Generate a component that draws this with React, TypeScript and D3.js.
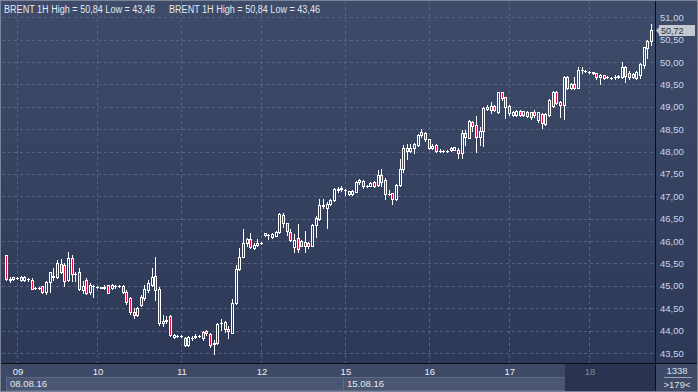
import React from "react";
import * as d3 from "d3";

const W = 698;
const H = 392;

const opens = [
  45.69, 45.15, 45.15, 45.17, 45.2, 45.14, 45.16, 45.13, 44.96, 44.96,
  44.99, 44.87, 45.08, 45.19, 45.19, 45.49, 45.46, 45.12, 45.63, 45.27,
  45.3, 44.9, 45.13, 44.86, 45.0, 44.98, 44.97, 44.96, 45.01, 44.96,
  45.0, 44.99, 45.0, 44.87, 44.72, 44.42, 44.34, 44.57, 44.72, 44.9,
  45.02, 45.21, 44.94, 44.17, 44.21, 44.33, 43.86, 43.89, 43.87, 43.84,
  43.68, 43.83, 43.86, 43.88, 43.83, 44.0, 43.92, 43.69, 43.72, 44.16,
  44.19, 44.04, 43.95, 44.61, 45.37, 45.65, 45.95, 46.04, 45.84, 45.91,
  45.95, 46.17, 46.14, 46.1, 46.12, 46.21, 46.58, 46.4, 46.21, 45.86,
  46.06, 46.01, 45.89, 45.95, 45.89, 46.36, 46.5, 46.78, 46.75, 46.83,
  46.92, 47.15, 47.17, 47.14, 47.12, 47.05, 47.1, 47.31, 47.35, 47.24,
  47.24, 47.33, 47.25, 47.48, 47.36, 47.05, 47.07, 46.93, 47.25, 47.6,
  48.07, 48.02, 48.09, 48.15, 48.37, 48.42, 48.27, 48.08, 48.15, 48.02,
  48.01, 48.02, 48.03, 48.04, 48.04, 47.96, 48.41, 48.31, 48.67, 48.59,
  48.33, 48.45, 48.95, 48.93, 49.02, 48.89, 49.32, 49.21, 49.02, 48.82,
  48.82, 48.91, 48.82, 48.89, 48.77, 48.89, 48.71, 48.85, 48.62, 48.82,
  49.02, 49.34, 49.1, 49.04, 49.67, 49.41, 49.52, 49.43, 49.82, 49.81,
  49.78, 49.77, 49.75, 49.66, 49.71, 49.66, 49.65, 49.67, 49.66, 49.67,
  49.88, 49.66, 49.73, 49.65, 49.71, 49.93, 50.31, 50.47,
];

const highs = [
  45.7, 45.2, 45.2, 45.19, 45.22, 45.23, 45.17, 45.17, 44.98, 44.97,
  45.0, 45.11, 45.32, 45.41, 45.58, 45.6, 45.52, 45.75, 45.7, 45.32,
  45.4, 45.1, 45.17, 45.06, 45.02, 45.0, 44.98, 45.03, 45.03, 45.05,
  45.03, 45.02, 45.01, 44.9, 44.76, 44.5, 44.52, 44.8, 45.03, 45.13,
  45.41, 45.65, 44.98, 44.35, 44.33, 44.36, 43.93, 43.91, 43.9, 43.86,
  43.88, 43.87, 43.92, 43.9, 44.0, 44.01, 43.94, 43.8, 44.16, 44.27,
  44.22, 44.1, 44.7, 45.47, 45.84, 46.28, 46.08, 46.19, 45.95, 46.04,
  45.97, 46.19, 46.15, 46.18, 46.22, 46.62, 46.62, 46.41, 46.26, 46.15,
  46.38, 46.03, 46.23, 45.98, 46.38, 46.55, 46.95, 46.95, 46.88, 46.95,
  47.18, 47.21, 47.22, 47.17, 47.13, 47.14, 47.34, 47.39, 47.36, 47.26,
  47.32, 47.34, 47.59, 47.62, 47.42, 47.15, 47.08, 47.27, 47.83, 48.15,
  48.16, 48.18, 48.2, 48.39, 48.5, 48.44, 48.29, 48.18, 48.16, 48.05,
  48.04, 48.04, 48.1, 48.11, 48.09, 48.48, 48.48, 48.71, 48.68, 48.8,
  48.56, 49.0, 49.05, 49.1, 49.04, 49.34, 49.34, 49.23, 49.04, 48.9,
  48.92, 48.92, 48.91, 48.9, 48.89, 48.93, 48.89, 48.87, 48.87, 49.17,
  49.36, 49.36, 49.12, 49.69, 49.69, 49.54, 49.67, 49.9, 49.9, 49.83,
  49.8, 49.78, 49.76, 49.73, 49.72, 49.68, 49.67, 49.71, 49.7, 50.0,
  49.91, 49.8, 49.75, 49.8, 49.97, 50.34, 50.49, 50.84,
];

const lows = [
  45.13, 45.08, 45.14, 45.15, 45.11, 45.11, 45.1, 44.92, 44.94, 44.93,
  44.85, 44.81, 44.87, 45.14, 45.17, 45.28, 45.0, 45.11, 45.11, 45.11,
  44.9, 44.83, 44.82, 44.81, 44.76, 44.95, 44.95, 44.92, 44.83, 44.94,
  44.96, 44.97, 44.85, 44.6, 44.38, 44.29, 44.33, 44.55, 44.68, 44.87,
  45.0, 44.68, 44.13, 44.1, 44.17, 43.87, 43.84, 43.86, 43.85, 43.66,
  43.66, 43.79, 43.84, 43.86, 43.8, 43.9, 43.64, 43.47, 43.71, 44.02,
  43.98, 43.83, 43.95, 44.59, 45.35, 45.64, 45.88, 45.84, 45.82, 45.88,
  45.93, 46.12, 46.05, 46.08, 46.11, 46.19, 46.32, 46.14, 46.01, 45.75,
  45.75, 45.88, 45.75, 45.85, 45.88, 46.1, 46.47, 46.75, 46.3, 46.81,
  46.9, 47.1, 47.13, 47.03, 47.03, 47.04, 47.09, 47.28, 47.18, 47.2,
  47.23, 47.21, 47.23, 47.22, 46.95, 47.03, 46.84, 46.92, 47.22, 47.55,
  47.83, 48.0, 47.96, 48.13, 48.33, 48.24, 48.05, 48.06, 47.99, 47.98,
  47.98, 47.99, 48.02, 48.03, 47.86, 47.86, 48.15, 48.3, 48.46, 48.0,
  48.15, 48.13, 48.92, 48.87, 48.9, 48.87, 49.15, 48.74, 48.82, 48.8,
  48.8, 48.8, 48.8, 48.78, 48.72, 48.77, 48.67, 48.53, 48.59, 48.8,
  49.0, 49.06, 48.78, 48.72, 49.39, 49.4, 49.4, 49.42, 49.76, 49.78,
  49.75, 49.74, 49.62, 49.51, 49.63, 49.64, 49.63, 49.62, 49.65, 49.64,
  49.56, 49.62, 49.64, 49.63, 49.64, 49.86, 50.1, 50.37,
];

const closes = [
  45.15, 45.14, 45.19, 45.17, 45.12, 45.2, 45.15, 44.94, 44.96, 44.95,
  44.86, 45.08, 45.3, 45.22, 45.5, 45.32, 45.11, 45.62, 45.26, 45.27,
  44.93, 45.0, 44.85, 45.02, 44.99, 44.97, 44.96, 44.97, 44.85, 45.01,
  44.99, 45.0, 44.87, 44.63, 44.42, 44.34, 44.5, 44.76, 44.94, 45.06,
  45.2, 44.91, 44.16, 44.22, 44.24, 43.9, 43.91, 43.88, 43.88, 43.68,
  43.85, 43.84, 43.88, 43.89, 43.98, 43.95, 43.67, 43.72, 44.15, 44.17,
  44.03, 43.99, 44.61, 45.37, 45.65, 45.95, 46.04, 45.86, 45.91, 45.96,
  45.95, 46.13, 46.13, 46.16, 46.21, 46.61, 46.4, 46.23, 46.02, 46.02,
  45.82, 45.89, 45.98, 45.88, 46.36, 46.51, 46.81, 46.8, 46.84, 46.92,
  47.16, 47.16, 47.19, 47.15, 47.05, 47.12, 47.33, 47.36, 47.24, 47.24,
  47.3, 47.24, 47.48, 47.33, 47.05, 47.06, 46.93, 47.25, 47.6, 48.07,
  48.02, 48.09, 48.18, 48.37, 48.44, 48.27, 48.07, 48.13, 48.01, 48.01,
  48.02, 48.01, 48.09, 48.1, 47.96, 48.41, 48.33, 48.68, 48.57, 48.33,
  48.45, 48.97, 49.0, 49.02, 48.93, 49.32, 49.19, 49.0, 48.87, 48.89,
  48.91, 48.82, 48.9, 48.8, 48.88, 48.82, 48.88, 48.63, 48.85, 49.15,
  49.34, 49.08, 49.05, 49.67, 49.41, 49.52, 49.43, 49.82, 49.82, 49.8,
  49.77, 49.76, 49.67, 49.71, 49.64, 49.66, 49.65, 49.67, 49.69, 49.88,
  49.69, 49.75, 49.66, 49.77, 49.95, 50.33, 50.47, 50.72,
];

const dayTickIndex = [3, 25, 48, 70, 93, 116, 138, 160];
const dayTickLabels = ["09", "10", "11", "12", "15", "16", "17", "18"];
const weekStartIndex = [0, 93];
const weekLabels = ["08.08.16", "15.08.16"];
const activeDayStartIndex = 154;
const yTicks = [43.5, 44, 44.5, 45, 45.5, 46, 46.5, 47, 47.5, 48, 48.5, 49, 49.5, 50, 50.5, 51];
const titleText = "BRENT 1H High = 50,84 Low = 43,46";
const lastPrice = 50.72;
const cornerTop = "1338";
const cornerBottom = ">179<";

const PLOT_L = 2;
const PLOT_R = 655;
const PLOT_T = 1;
const PLOT_B = 363;
const FONT = "'Liberation Sans', Arial, sans-serif";

const fmt = (v: number) => d3.format(".2f")(v).replace(".", ",");

export default function App() {
  const n = closes.length;
  const x = d3.scaleLinear().domain([0, n - 1]).range([6, 651]);
  const y = d3.scaleLinear().domain([43.5, 51]).range([353, 17.3]);

  const candles = closes.map((c, i) => {
    const o = opens[i];
    const hi = highs[i];
    const lo = lows[i];
    const px = Math.round(x(i));
    const yTop = Math.round(y(Math.max(o, c)));
    const yBot = Math.round(y(Math.min(o, c)));
    const yHi = Math.round(y(hi));
    const yLo = Math.round(y(lo));
    const bear = c < o;
    return (
      <g key={i}>
        {yHi < yTop && (
          <line x1={px + 0.5} x2={px + 0.5} y1={yHi} y2={yTop} stroke="#ffffff" strokeWidth={1} />
        )}
        {yLo > yBot && (
          <line x1={px + 0.5} x2={px + 0.5} y1={yBot + 1} y2={yLo + 1} stroke="#ffffff" strokeWidth={1} />
        )}
        {yBot - yTop >= 1 ? (
          <rect
            x={px - 0.5}
            y={yTop + 0.5}
            width={2}
            height={yBot - yTop}
            fill={bear ? "#e4103c" : "none"}
            stroke="#ffffff"
            strokeWidth={1}
          />
        ) : (
          <line x1={px - 1} x2={px + 2} y1={yTop + 0.5} y2={yTop + 0.5} stroke="#ffffff" strokeWidth={1} />
        )}
      </g>
    );
  });

  const lastY = Math.round(y(lastPrice));
  const activeX = Math.round(x(activeDayStartIndex) - 2);

  return (
    <svg
      width={W}
      height={H}
      style={{ position: "absolute", left: 0, top: 0, display: "block" }}
      fontFamily={FONT}
    >
      <defs>
        <linearGradient id="bg" x1="0" y1="0" x2="0" y2="1">
          <stop offset="0" stopColor="#3e4b69" />
          <stop offset="1" stopColor="#2b3755" />
        </linearGradient>
        <clipPath id="plotclip">
          <rect x={PLOT_L} y={PLOT_T} width={PLOT_R - PLOT_L} height={PLOT_B - PLOT_T} />
        </clipPath>
      </defs>
      <rect x={0} y={0} width={W} height={H} fill="url(#bg)" />

      {/* grid */}
      <g stroke="#56647f" strokeWidth={1} strokeDasharray="3,3">
        {yTicks.map((t) => (
          <line key={t} x1={PLOT_L} x2={PLOT_R} y1={Math.round(y(t)) + 0.5} y2={Math.round(y(t)) + 0.5} />
        ))}
        {dayTickIndex.map((d) => (
          <line key={d} x1={Math.round(x(d)) + 0.5} x2={Math.round(x(d)) + 0.5} y1={PLOT_T} y2={PLOT_B} />
        ))}
      </g>

      {/* title */}
      <g fill="#e2e8f2" fontSize={10}>
        <text x={4} y={13} textLength={151} lengthAdjust="spacingAndGlyphs">{titleText}</text>
        <text x={169} y={13} textLength={151} lengthAdjust="spacingAndGlyphs">{titleText}</text>
      </g>

      {/* candles */}
      <g clipPath="url(#plotclip)">{candles}</g>

      {/* right axis */}
      <line x1={PLOT_R + 0.5} x2={PLOT_R + 0.5} y1={0} y2={H} stroke="#0c0f18" strokeWidth={1} />
      <g fill="#c9d6ee" fontSize={9.5}>
        {yTicks.map((t) => (
          <text key={t} x={660} y={y(t) + 3.5}>{fmt(t)}</text>
        ))}
      </g>
      <g>
        <rect x={659} y={lastY - 5} width={36} height={11} fill="#c3c8d1" />
        <path
          d={`M${656},${lastY + 0.5} L${660},${lastY - 4} L${660},${lastY + 5} Z`}
          fill="#c3c8d1"
        />
        <text x={661} y={lastY + 3.5} fontSize={9} fill="#2a3040">{fmt(lastPrice)}</text>
      </g>

      {/* bottom axis */}
      <rect x={0} y={PLOT_B + 1} width={PLOT_R} height={H - PLOT_B - 1} fill="#3d4965" />
      <line x1={0} x2={W} y1={PLOT_B + 0.5} y2={PLOT_B + 0.5} stroke="#0c0f18" strokeWidth={1} />
      {weekStartIndex.map((w, k) => {
        const x0 = k === 0 ? 6 : Math.round(x(w)) - 2;
        const x1 = k + 1 < weekStartIndex.length ? Math.round(x(weekStartIndex[k + 1])) - 2 : activeX;
        return (
          <g key={w}>
            <rect x={x0 + 0.5} y={377.5} width={x1 - x0} height={13} fill="#4a5672" stroke="#5d6982" strokeWidth={1} />
            <text x={x0 + 4} y={387} fill="#e2e8f2" fontSize={9.5}>{weekLabels[k]}</text>
          </g>
        );
      })}
      <rect x={activeX} y={PLOT_B + 1} width={PLOT_R - activeX} height={H - PLOT_B - 1} fill="#2a3450" />
      <g fontSize={9.5} textAnchor="middle">
        {dayTickIndex.map((d, k) => (
          <text
            key={d}
            x={x(d) + 1}
            y={375}
            fill={x(d) > activeX ? "#7d879d" : "#e8edf5"}
          >
            {dayTickLabels[k]}
          </text>
        ))}
      </g>

      {/* corner */}
      <rect x={PLOT_R + 1} y={PLOT_B + 1} width={W - PLOT_R - 1} height={H - PLOT_B - 1} fill="#3d4965" />
      <g fill="#d8e0ee" fontSize={9.5} textAnchor="middle">
        <text x={677} y={374}>{cornerTop}</text>
        <text x={677} y={388}>{cornerBottom}</text>
      </g>
      <line x1={664} x2={692} y1={377.5} y2={377.5} stroke="#9aa4b8" strokeWidth={1} />

      {/* frame */}
      <rect x={0.5} y={0.5} width={W - 1} height={H - 1} fill="none" stroke="#7c8597" strokeWidth={1} />
    </svg>
  );
}
